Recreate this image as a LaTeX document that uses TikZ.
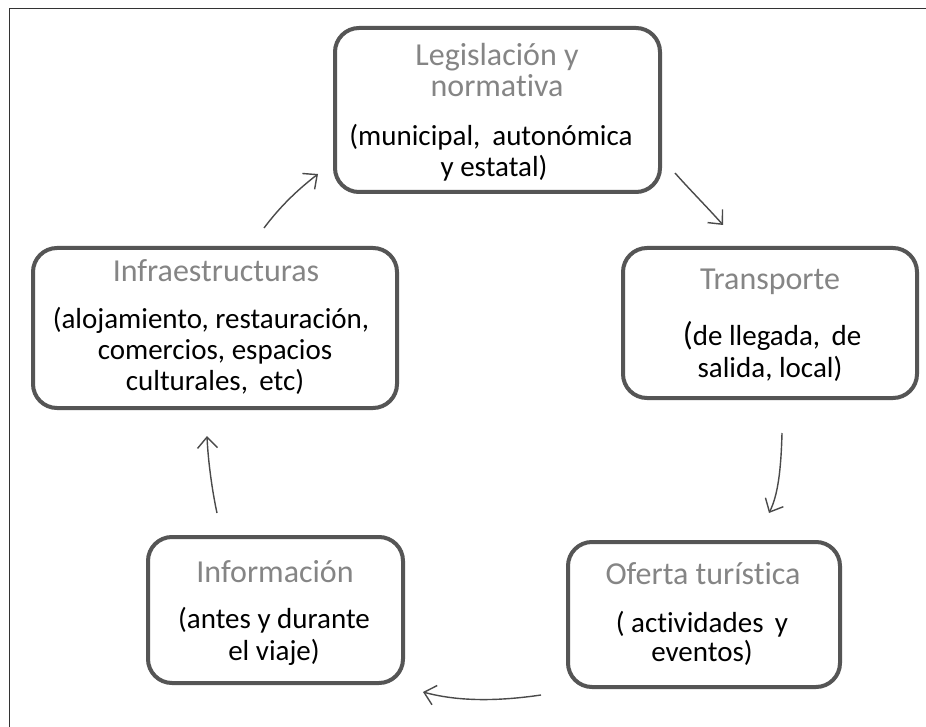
\documentclass[tikz,border=0pt]{standalone}
\usepackage{fontspec}
\setmainfont{Carlito}[Ligatures={NoCommon}]
\usetikzlibrary{arrows.meta}
\definecolor{boxline}{HTML}{555555}
\definecolor{titlegray}{HTML}{858585}
\definecolor{arrowgray}{HTML}{4A4A4A}
\newcommand{\nolig}{\kern0pt}
\tikzset{
  cyclebox/.style={draw=boxline, line width=4pt, rounded corners=24pt, fill=white},
  titletext/.style={anchor=base, text=titlegray, font=\fontsize{32}{32}\selectfont, inner sep=0pt},
  bodytext/.style={anchor=base, text=black, font=\fontsize{29}{31}\selectfont, inner sep=0pt},
  cyclearrow/.style={draw=arrowgray, line width=1.4pt, -{Straight Barb[length=11pt,width=20pt,line width=1.4pt]}}
}
\begin{document}
\begin{tikzpicture}[x=1pt,y=-1pt]
\useasboundingbox (0,0) rectangle (926,727);
\fill[white] (0,0) rectangle (926,727);
% outer frame (only left and top edges visible)
\draw[line width=1.6pt, black!80] (9.5,727) -- (9.5,8.5) -- (926,8.5);

% boxes
\path[cyclebox] (335,28) rectangle (660,192);
\node[minimum width=325pt, minimum height=164pt] (legis) at (497.5,110) {};
\path[cyclebox] (623,248) rectangle (917,398);
\node[minimum width=294pt, minimum height=150pt] (transp) at (770,323) {};
\path[cyclebox] (33,248) rectangle (397,408);
\node[minimum width=364pt, minimum height=160pt] (infra) at (215,328) {};
\path[cyclebox] (148,537) rectangle (403,683);
\node[minimum width=255pt, minimum height=146pt] (info) at (275.5,610) {};
\path[cyclebox] (568,542) rectangle (840,687);
\node[minimum width=272pt, minimum height=145pt] (oferta) at (704,614.5) {};

% texts: Legislación
\node[titletext] (legisT1) at (497,66) {Legislación y};
\node[titletext] (legisT2) at (497,97) {normat\nolig iva};
\node[bodytext] (legisB1) at (491,146) {(municipal,\hspace{12pt}autonómica};
\node[bodytext] (legisB2) at (494,177) {y estatal)};

% Transporte
\node[titletext] (transpT) at (770,290) {Transporte};
\node[bodytext] (transpB1) at (772,345) {{\fontsize{33}{33}\selectfont(}de llegada,\, de};
\node[bodytext] (transpB2) at (770,377) {salida, local)};

% Infraestructuras
\node[titletext] (infraT) at (216,282) {Infraestructuras};
\node[bodytext] (infraB1) at (211,328) {(alojamiento, restauración,};
\node[bodytext] (infraB2) at (215,359) {comercios, espacios};
\node[bodytext] (infraB3) at (215,390) {culturales,\, etc)};

% Información
\node[titletext] (infoT) at (275,582) {Información};
\node[bodytext] (infoB1) at (274,628) {(antes y durante};
\node[bodytext] (infoB2) at (274,660) {el viaje)};

% Oferta turística
\node[titletext] (oferT) at (703,584) {Oferta turíst\nolig ica};
\node[bodytext] (oferB1) at (702,632) {( act\nolig ividades\, y};
\node[bodytext] (oferB2) at (702,661) {eventos)};

% arrow end points
\coordinate (a1s) at (264,228); \coordinate (a1e) at (318,174);
\coordinate (a2s) at (675,173); \coordinate (a2e) at (723,225);
\coordinate (a3s) at (782,433); \coordinate (a3e) at (769,513);
\coordinate (a4s) at (541,695); \coordinate (a4e) at (423,692);
\coordinate (a5s) at (217,513); \coordinate (a5e) at (207,436);

\draw[cyclearrow] (a1s) .. controls (282,204) and (300,188) .. (a1e);
\draw[cyclearrow] (a2s) .. controls (690,190) and (708,208) .. (a2e);
\draw[cyclearrow] (a3s) .. controls (781,470) and (778,495) .. (a3e);
\draw[cyclearrow] (a4s) .. controls (500,701) and (460,702) .. (a4e);
\draw[cyclearrow] (a5s) .. controls (212,490) and (208,460) .. (a5e);
\end{tikzpicture}
\end{document}
